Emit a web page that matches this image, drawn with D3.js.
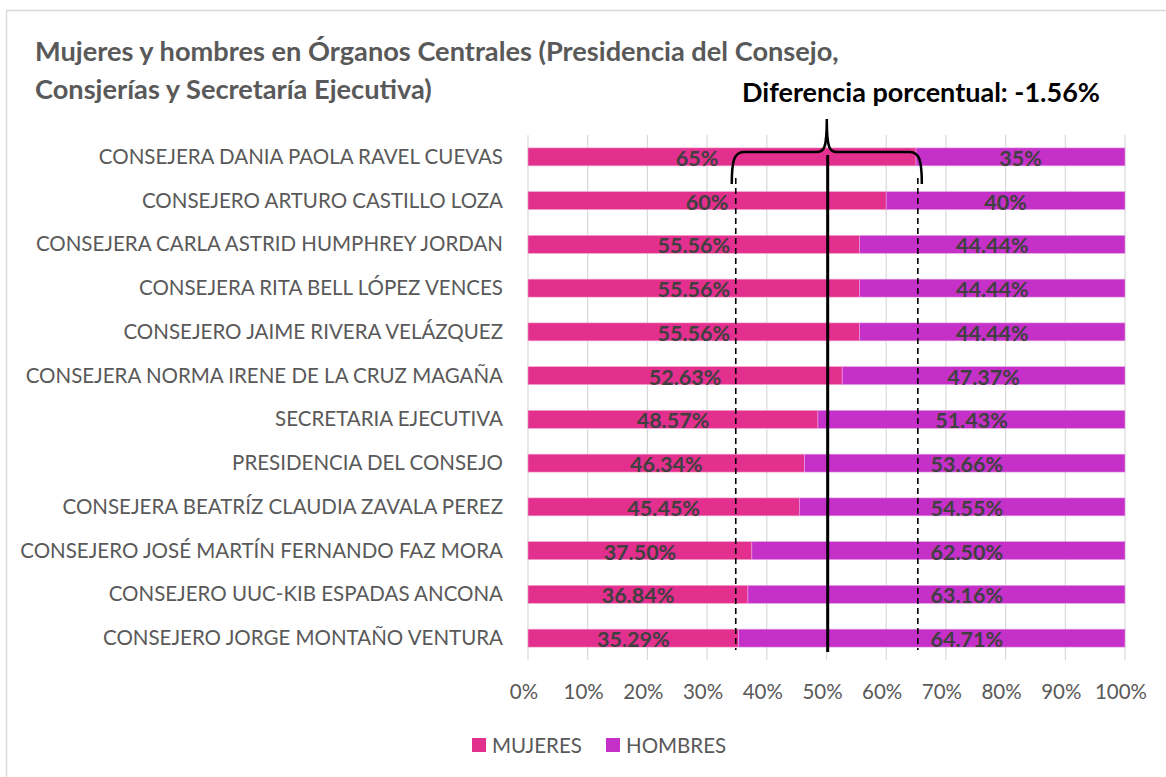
<head>
  <title>Mujeres y hombres en Órganos Centrales</title>
</head>
<body style="margin:0">
  <script src="https://d3js.org/d3.v7.min.js"></script>
  <style>
    * { font-family: Lato, "Open Sans", sans-serif; }
    .cat { font-size: 20.5px; fill: #595959; text-anchor: end; }
    .tick-lbl { font-size: 20.5px; fill: #595959; text-anchor: middle; }
    .val { font-size: 21.5px; font-weight: bold; fill: #404040; text-anchor: middle; }
  </style>
  <script>
    const categories = [
      "CONSEJERA DANIA PAOLA RAVEL CUEVAS",
      "CONSEJERO ARTURO CASTILLO LOZA",
      "CONSEJERA CARLA ASTRID HUMPHREY JORDAN",
      "CONSEJERA RITA BELL LÓPEZ VENCES",
      "CONSEJERO JAIME RIVERA VELÁZQUEZ",
      "CONSEJERA NORMA IRENE DE LA CRUZ MAGAÑA",
      "SECRETARIA EJECUTIVA",
      "PRESIDENCIA DEL CONSEJO",
      "CONSEJERA BEATRÍZ CLAUDIA ZAVALA PEREZ",
      "CONSEJERO JOSÉ MARTÍN FERNANDO FAZ MORA",
      "CONSEJERO UUC-KIB ESPADAS ANCONA",
      "CONSEJERO JORGE MONTAÑO VENTURA"
    ];
    const mujeres = [65, 60, 55.56, 55.56, 55.56, 52.63, 48.57, 46.34, 45.45, 37.50, 36.84, 35.29];
    const hombres = [35, 40, 44.44, 44.44, 44.44, 47.37, 51.43, 53.66, 54.55, 62.50, 63.16, 64.71];
    const mujeresLbl = ["65%", "60%", "55.56%", "55.56%", "55.56%", "52.63%", "48.57%", "46.34%", "45.45%", "37.50%", "36.84%", "35.29%"];
    const hombresLbl = ["35%", "40%", "44.44%", "44.44%", "44.44%", "47.37%", "51.43%", "53.66%", "54.55%", "62.50%", "63.16%", "64.71%"];
    const ticks = [0, 10, 20, 30, 40, 50, 60, 70, 80, 90, 100];
    const refLines = [34.8, 50.2, 65.3]; // dashed, solid, dashed
    const series = ["MUJERES", "HOMBRES"];

    const W = 1166, H = 777;
    const colors = {MUJERES: "#e32f8e", HOMBRES: "#c530c8"};

    const svg = d3.select("body").append("svg")
      .attr("width", W).attr("height", H);

    svg.append("rect").attr("width", W).attr("height", H).attr("fill", "#fff");
    // chart border
    svg.append("rect")
      .attr("x", 6.5).attr("y", 10.5).attr("width", W + 10).attr("height", H + 10)
      .attr("fill", "none").attr("stroke", "#d9d9d9").attr("stroke-width", 1.5);

    const x = d3.scaleLinear().domain([0, 100]).range([528, 1125]);
    const y = d3.scaleBand().domain(categories).range([135, 660]).paddingInner(0.59).paddingOuter(0.295);

    // gridlines
    svg.append("g").selectAll("line").data(ticks).join("line")
      .attr("x1", d => x(d)).attr("x2", d => x(d))
      .attr("y1", 135).attr("y2", 660)
      .attr("stroke", "#d9d9d9").attr("stroke-width", 1.2);

    // tick labels
    svg.append("g").selectAll("text").data(ticks).join("text")
      .attr("class", "tick-lbl")
      .attr("x", d => x(d) - 4).attr("y", 699)
      .text(d => d + "%");

    // category labels
    svg.append("g").selectAll("text").data(categories).join("text")
      .attr("class", "cat")
      .attr("x", 503).attr("y", d => y(d) + y.bandwidth() / 2 + 7)
      .text(d => d);

    const rows = categories.map((c, i) => ({c, m: mujeres[i], h: hombres[i], ml: mujeresLbl[i], hl: hombresLbl[i]}));

    // bars
    const g = svg.append("g");
    g.selectAll("rect.m").data(rows).join("rect")
      .attr("class", "m")
      .attr("x", x(0)).attr("y", d => y(d.c))
      .attr("width", d => x(d.m) - x(0)).attr("height", y.bandwidth())
      .attr("fill", colors.MUJERES).attr("stroke", "#f2a5cd").attr("stroke-width", 0.6);
    g.selectAll("rect.h").data(rows).join("rect")
      .attr("class", "h")
      .attr("x", d => x(d.m)).attr("y", d => y(d.c))
      .attr("width", d => x(d.m + d.h) - x(d.m)).attr("height", y.bandwidth())
      .attr("fill", colors.HOMBRES).attr("stroke", "#e3a3e5").attr("stroke-width", 0.6);

    // reference lines
    svg.append("line")
      .attr("x1", x(refLines[1])).attr("x2", x(refLines[1]))
      .attr("y1", 155).attr("y2", 652)
      .attr("stroke", "#000").attr("stroke-width", 3);
    svg.append("g").selectAll("line").data([refLines[0], refLines[2]]).join("line")
      .attr("x1", d => x(d)).attr("x2", d => x(d))
      .attr("y1", 178).attr("y2", 650)
      .attr("stroke", "#000").attr("stroke-width", 1.6)
      .attr("stroke-dasharray", "6,4");

    // value labels
    g.selectAll("text.ml").data(rows).join("text")
      .attr("class", "val ml")
      .attr("x", d => d.m > 62 ? x(d.m / 2) - 25 : x(d.m / 2))
      .attr("y", d => y(d.c) + y.bandwidth() / 2 + 9)
      .text(d => d.ml);
    // men's labels keep clear of the right dashed line
    g.selectAll("text.hl").data(rows).join("text")
      .attr("class", "val hl")
      .attr("x", d => Math.max(x(d.m + d.h / 2), x(73.5)))
      .attr("y", d => y(d.c) + y.bandwidth() / 2 + 9)
      .text(d => d.hl);

    // brace
    const bx1 = x(refLines[0]), bx2 = x(refLines[2]), bm = (bx1 + bx2) / 2;
    const yH = 152, yTip = 119, yEnd = 184;
    const bp = d3.path();
    bp.moveTo(bx1 - 4, yEnd);
    bp.bezierCurveTo(bx1 - 4, yH + 10, bx1 - 2, yH, bx1 + 8, yH);
    bp.lineTo(bm - 10, yH);
    bp.bezierCurveTo(bm - 3, yH, bm, yH - 3, bm, yTip);
    bp.bezierCurveTo(bm, yH - 3, bm + 3, yH, bm + 10, yH);
    bp.lineTo(bx2 - 8, yH);
    bp.bezierCurveTo(bx2 + 2, yH, bx2 + 4, yH + 10, bx2 + 4, yEnd);
    svg.append("path").attr("d", bp.toString())
      .attr("fill", "none").attr("stroke", "#000").attr("stroke-width", 2.5);

    svg.append("text")
      .attr("x", 921).attr("y", 102)
      .attr("text-anchor", "middle")
      .style("font-size", "27px").style("font-weight", "bold").style("fill", "#000")
      .text("Diferencia porcentual: -1.56%");

    // title
    const title = svg.append("text")
      .style("font-size", "27.2px").style("font-weight", "bold").style("fill", "#595959");
    title.append("tspan").attr("x", 35).attr("y", 61)
      .text("Mujeres y hombres en Órganos Centrales (Presidencia del Consejo,");
    title.append("tspan").attr("x", 35).attr("y", 99)
      .text("Consjerías y Secretaría Ejecutiva)");

    // legend
    const leg = svg.append("g").selectAll("g").data(series).join("g")
      .attr("transform", (d, i) => "translate(" + [472, 606][i] + ",738)");
    leg.append("rect").attr("width", 14).attr("height", 14).attr("fill", d => colors[d]);
    leg.append("text").attr("x", 20).attr("y", 14.5)
      .style("font-size", "20.5px").style("fill", "#595959")
      .text(d => d);
  </script>
</body>
